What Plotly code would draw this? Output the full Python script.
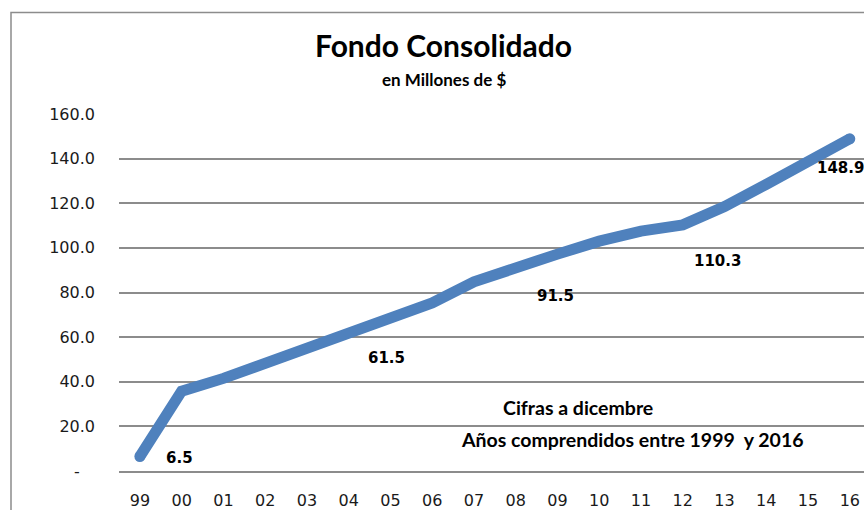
import plotly.graph_objects as go

years = ["99", "00", "01", "02", "03", "04", "05", "06", "07", "08",
         "09", "10", "11", "12", "13", "14", "15", "16"]
fondo = [6.5, 35.8, 41.5, 48.3, 55.0, 61.5, 68.5, 75.3, 84.8, 91.5,
         97.2, 103.0, 107.5, 110.3, 118.5, 128.5, 139.0, 148.9]
labeled_years = ["99", "04", "08", "12", "16"]
y_ticks = [0, 20, 40, 60, 80, 100, 120, 140, 160]
y_ticktext = ["-\u00a0\u00a0\u00a0", "20.0", "40.0", "60.0", "80.0", "100.0", "120.0", "140.0", "160.0"]

title_text = "Fondo Consolidado"
subtitle_text = "en Millones de $"
note1 = "Cifras a dicembre"
note2 = "Años comprendidos entre 1999\u00a0 y 2016"

# layout geometry (pixels)
W, H = 864, 510
L, R, T, B = 119, 0, 114, 37
PW, PH = W - L - R, H - T - B

def px(x):
    return (x - L) / PW

def py(y):
    return (H - B - y) / PH

label_offsets = {"99": (40, -1), "04": (38, -24), "08": (40, -29), "12": (35, -36), "16": (-9, -29)}

n = len(years)
idx = list(range(n))
cap_sizes = [11] + [0] * (n - 2) + [11]

fig = go.Figure()
fig.add_trace(go.Scatter(
    x=idx, y=fondo, mode="lines+markers",
    line=dict(color="#4F81BD", width=11),
    marker=dict(color="#4F81BD", size=cap_sizes, line=dict(width=0), opacity=1),
    customdata=years, hovertemplate="%{customdata}: %{y:.1f}<extra></extra>",
    showlegend=False, cliponaxis=False,
))

annotations = []
for yr in labeled_years:
    i = years.index(yr)
    dx, dy = label_offsets[yr]
    annotations.append(dict(
        x=i, y=fondo[i], xref="x", yref="y", text=f"<b>{fondo[i]:.1f}</b>",
        showarrow=False, xshift=dx, yshift=dy,
        font=dict(family="DejaVu Sans", size=15, color="#000000"),
        xanchor="center", yanchor="middle",
    ))

annotations += [
    dict(x=px(443), y=py(45), xref="paper", yref="paper", text=f"<b>{title_text}</b>",
         showarrow=False, xanchor="center", yanchor="middle",
         font=dict(family="Lato", size=30, color="#000000")),
    dict(x=px(444), y=py(79), xref="paper", yref="paper", text=f"<b>{subtitle_text}</b>",
         showarrow=False, xanchor="center", yanchor="middle",
         font=dict(family="Lato", size=17, color="#000000")),
    dict(x=px(578), y=py(409), xref="paper", yref="paper", text=f"<b>{note1}</b>",
         showarrow=False, xanchor="center", yanchor="middle",
         font=dict(family="Lato", size=19.5, color="#000000")),
    dict(x=px(632), y=py(441), xref="paper", yref="paper", text=f"<b>{note2}</b>",
         showarrow=False, xanchor="center", yanchor="middle",
         font=dict(family="Lato", size=19.5, color="#000000")),
]

fig.update_layout(
    width=W, height=H,
    margin=dict(l=L, r=R, t=T, b=B, pad=0),
    paper_bgcolor="#FFFFFF", plot_bgcolor="#FFFFFF",
    annotations=annotations,
    shapes=[dict(type="rect", xref="paper", yref="paper",
                 x0=px(11), x1=px(W + 20), y0=py(H + 20), y1=py(12),
                 line=dict(color="#8C8C8C", width=1.5), fillcolor="rgba(0,0,0,0)", layer="below")],
    xaxis=dict(
        range=[-0.5, 17.34], tickvals=idx, ticktext=years,
        showgrid=False, zeroline=False,
        showline=True, linecolor="#8C8C8C", linewidth=1.5,
        ticks="", ticklabelstandoff=14,
        tickfont=dict(family="DejaVu Sans", size=16, color="#1a1a1a"),
    ),
    yaxis=dict(
        range=[0, 160], tickvals=y_ticks, ticktext=y_ticktext,
        showgrid=True, gridcolor="#8C8C8C", gridwidth=1.5,
        zeroline=False, showline=False,
        ticks="", ticklabelstandoff=23,
        tickfont=dict(family="DejaVu Sans", size=16, color="#1a1a1a"),
    ),
)

fig.write_html(
    "out.html",
    config={"displayModeBar": False},
    post_script="document.body.style.margin='0';document.body.style.overflow='hidden';",
)
